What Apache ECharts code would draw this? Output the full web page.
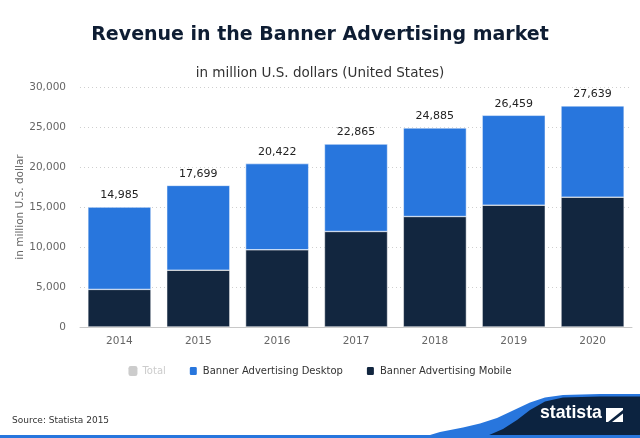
<!DOCTYPE html>
<html>
<head>
<meta charset="utf-8">
<script src="https://cdn.jsdelivr.net/npm/echarts@6/dist/echarts.min.js"></script>
<style>
html,body{margin:0;padding:0;background:#fff;}
#chart{width:640px;height:438px;}
</style>
</head>
<body>
<div id="chart"></div>
<script>
const years = ['2014','2015','2016','2017','2018','2019','2020'];
const totals = [14985, 17699, 20422, 22865, 24885, 26459, 27639];
const desktop = [10285, 10599, 10772, 10925, 11075, 11229, 11409];
const mobile = [4700, 7100, 9650, 11940, 13810, 15230, 16230];
const yTicks = [0, 5000, 10000, 15000, 20000, 25000, 30000];

const fmt = v => Number(v).toLocaleString('en-US');
const FONT = 'DejaVu Sans';

const chart = echarts.init(document.getElementById('chart'), null, {renderer: 'canvas'});
chart.setOption({
  animation: false,
  backgroundColor: '#fff',
  textStyle: {fontFamily: FONT},
  title: [
    {text: 'Revenue in the Banner Advertising market', left: 'center', top: 21,
     textStyle: {fontFamily: FONT, fontWeight: 'bold', fontSize: 19, color: '#0e1d33'}},
    {text: 'in million U.S. dollars (United States)', left: 'center', top: 61,
     textStyle: {fontFamily: FONT, fontWeight: 'normal', fontSize: 13.5, color: '#333'}}
  ],
  legend: {
    bottom: 56, left: 'center', itemWidth: 9, itemHeight: 10, itemGap: 22,
    icon: 'roundRect', inactiveColor: '#ccc',
    textStyle: {fontFamily: FONT, fontSize: 10, color: '#333'},
    data: ['Total', 'Banner Advertising Desktop', 'Banner Advertising Mobile'],
    selected: {'Total': false}
  },
  grid: {left: 80, right: 8, top: 87, bottom: 111, containLabel: false},
  xAxis: {
    type: 'category', data: years,
    axisLine: {lineStyle: {color: '#c8c8c8', width: 1}},
    axisTick: {show: false},
    axisLabel: {color: '#666', fontSize: 10.5, margin: 9, fontFamily: FONT}
  },
  yAxis: {
    type: 'value', min: yTicks[0], max: yTicks[yTicks.length - 1], interval: 5000,
    name: 'in million U.S. dollar', nameLocation: 'middle', nameGap: 54, nameRotate: 90,
    nameMoveOverlap: false,
    nameTextStyle: {color: '#666', fontSize: 10.5, fontFamily: FONT},
    axisLine: {show: false}, axisTick: {show: false},
    axisLabel: {color: '#666', fontSize: 10.5, margin: 14, formatter: v => fmt(v), fontFamily: FONT},
    splitLine: {lineStyle: {color: '#cfcfcf', type: [1, 3], width: 1}}
  },
  series: [
    {name: 'Total', type: 'bar', data: totals, itemStyle: {color: '#cccccc'}},
    {name: 'Banner Advertising Mobile', type: 'bar', stack: 's', data: mobile, barWidth: '80%',
     itemStyle: {color: '#12263f', borderColor: '#fff', borderWidth: 0.5}},
    {name: 'Banner Advertising Desktop', type: 'bar', stack: 's', data: desktop, barWidth: '80%',
     itemStyle: {color: '#2876dd', borderColor: '#fff', borderWidth: 0.5},
     label: {show: true, position: 'top', distance: 6, color: '#222', fontSize: 11, fontFamily: FONT,
             formatter: p => fmt(totals[p.dataIndex])}}
  ],
  graphic: {elements: [
    {type: 'text', x: 12, y: 416, style: {text: 'Source: Statista 2015', fill: '#333', fontSize: 9, fontFamily: FONT}},
    {type: 'polygon', shape: {points: [[420, 438], [440, 432], [463, 427.5], [480, 423.5], [497, 418], [513, 410.5], [530, 402.5], [545, 397.5], [563, 395], [600, 394], [640, 394], [640, 438]]},
     style: {fill: '#2876dd'}},
    {type: 'polygon', shape: {points: [[478, 438], [488, 435.5], [503, 429], [517, 420], [530, 410], [545, 401.5], [563, 397.5], [600, 396.5], [640, 396.5], [640, 438]]},
     style: {fill: '#0c2340'}},
    {type: 'rect', shape: {x: 0, y: 435, width: 640, height: 3}, style: {fill: '#2876dd'}},
    {type: 'text', x: 540, y: 403, scaleX: 0.93, originX: 0, originY: 0,
     style: {text: 'statista', fill: '#fff', fontSize: 19, fontWeight: 'bold', fontFamily: 'Liberation Sans'}},
    {type: 'rect', shape: {x: 606, y: 408, width: 17, height: 14}, style: {fill: '#fff'}},
    {type: 'polygon', shape: {points: [[608, 422], [623, 410], [623, 413.5], [612, 422]]}, style: {fill: '#0c2340'}}
  ]}
});
</script>
</body>
</html>
